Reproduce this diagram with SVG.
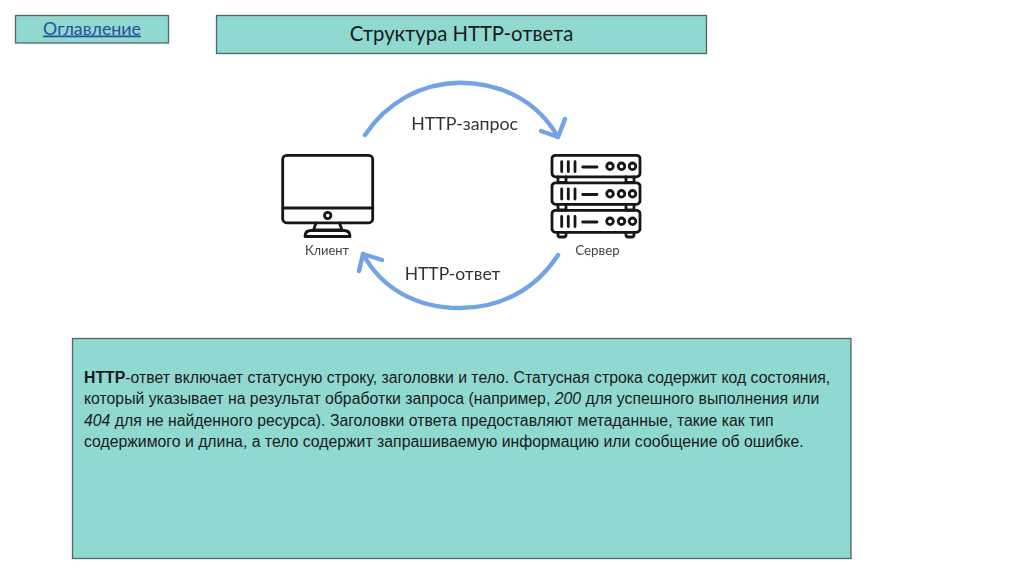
<svg xmlns="http://www.w3.org/2000/svg" width="1024" height="574" viewBox="0 0 1024 574">
<defs><filter id="soft" x="-5%" y="-5%" width="110%" height="110%"><feGaussianBlur stdDeviation="0.45"/></filter></defs>
<style>
.box{fill:#8fd9d1;stroke:#4f6665;stroke-width:1.3}
.arc{fill:none;stroke:#73a3e6;stroke-width:4.4;stroke-linecap:round;stroke-linejoin:round}
.ic{fill:none;stroke:#141414;stroke-width:2.8;stroke-linejoin:round;stroke-linecap:round}
.ttl{font-family:"Lato","Open Sans",sans-serif;fill:#1a1a1a}
.lbl{font-family:"Lato","Noto Sans",sans-serif;fill:#444}
.body{font-family:"Liberation Sans",Arial,sans-serif;font-size:15.8px;fill:#1a1a1a}
</style>
<rect width="1024" height="574" fill="#fff"/>
<g id="toc">
<rect class="box" x="15.500" y="15.500" width="153" height="27.500"/>
<text x="92" y="34.500" text-anchor="middle" font-size="17.800" class="ttl" style="fill:#2a4f9a" text-decoration="underline">Оглавление</text>
</g>
<g id="title">
<rect class="box" x="216.500" y="15.500" width="490" height="38"/>
<text x="461.500" y="40.500" text-anchor="middle" font-size="20.300" class="ttl">Структура HTTP-ответа</text>
</g>
<g id="connectors" filter="url(#soft)">
<path class="arc" d="M365 135C387 102 422 83 460 82.700C503 83 538 102 558 137"/>
<path class="arc" d="M565 119L558 137L541 131"/>
<path class="arc" d="M558 255C536 289 501 308 460 308C417 308 382 289 363 254"/>
<path class="arc" d="M359 271L363 254L382 260"/>
</g>
<g id="client" filter="url(#soft)">
<rect class="ic" x="282.700" y="155.300" width="90" height="67.500" rx="4"/>
<path class="ic" d="M283 208H372"/>
<circle class="ic" cx="327.700" cy="215.500" r="3.200"/>
<path class="ic" d="M316 223L313.500 230H342L339.500 223"/>
<path class="ic" d="M305 236.500Q305 230.500 311 230.500H344Q350 230.500 350 236.500Z"/>
<text x="327" y="254.500" text-anchor="middle" font-size="12.900" class="lbl">Клиент</text>
</g>
<g id="server" filter="url(#soft)">
<g id="server-unit-1">
<rect class="ic" x="552" y="155.300" width="88" height="21.500" rx="3.500"/>
<path class="ic" d="M561.700 161.700V171.500M568.300 161.700V171.500M575 161.700V171.500M582.700 167H597"/>
<circle class="ic" cx="610" cy="166.300" r="3.300"/><circle class="ic" cx="621.500" cy="166.300" r="3.300"/><circle class="ic" cx="632.500" cy="166.300" r="3.300"/>
</g>
<path class="ic" d="M558 177V182.500H566V177M626 177V182.500H634V177"/>
<g id="server-unit-2">
<rect class="ic" x="552" y="182.800" width="88" height="21.500" rx="3.500"/>
<path class="ic" d="M561.700 189V199M568.300 189V199M575 189V199M582.700 194.500H597"/>
<circle class="ic" cx="610" cy="193.800" r="3.300"/><circle class="ic" cx="621.500" cy="193.800" r="3.300"/><circle class="ic" cx="632.500" cy="193.800" r="3.300"/>
</g>
<path class="ic" d="M558 204.500V210H566V204.500M626 204.500V210H634V204.500"/>
<g id="server-unit-3">
<rect class="ic" x="552" y="210.300" width="88" height="22" rx="3.500"/>
<path class="ic" d="M561.700 216.500V226.500M568.300 216.500V226.500M575 216.500V226.500M582.700 222H597"/>
<circle class="ic" cx="610" cy="221.300" r="3.300"/><circle class="ic" cx="621.500" cy="221.300" r="3.300"/><circle class="ic" cx="632.500" cy="221.300" r="3.300"/>
</g>
<path class="ic" d="M558 232.500V235Q558 237 560 237H564Q566 237 566 235V232.500M626 232.500V235Q626 237 628 237H632Q634 237 634 235V232.500"/>
<text x="597.500" y="254.500" text-anchor="middle" font-size="13.400" class="lbl">Сервер</text>
</g>
<g filter="url(#soft)">
<text x="464.700" y="130" text-anchor="middle" font-size="17.800" class="lbl" style="fill:#333">HTTP-запрос</text>
<text x="452.500" y="279.500" text-anchor="middle" font-size="17.500" class="lbl" style="fill:#333">HTTP-ответ</text>
</g>
<g id="description">
<rect class="box" x="72.500" y="338.500" width="778.500" height="220"/>
<text class="body" x="84" y="382.500"><tspan font-weight="bold">HTTP</tspan>-ответ включает статусную строку, заголовки и тело. Статусная строка содержит код состояния,</text>
<text class="body" x="84" y="404">который указывает на результат обработки запроса (например, <tspan font-style="italic">200</tspan> для успешного выполнения или</text>
<text class="body" x="84" y="425.500"><tspan font-style="italic">404</tspan> для не найденного ресурса). Заголовки ответа предоставляют метаданные, такие как тип</text>
<text class="body" x="84" y="447">содержимого и длина, а тело содержит запрашиваемую информацию или сообщение об ошибке.</text>
</g>
</svg>
